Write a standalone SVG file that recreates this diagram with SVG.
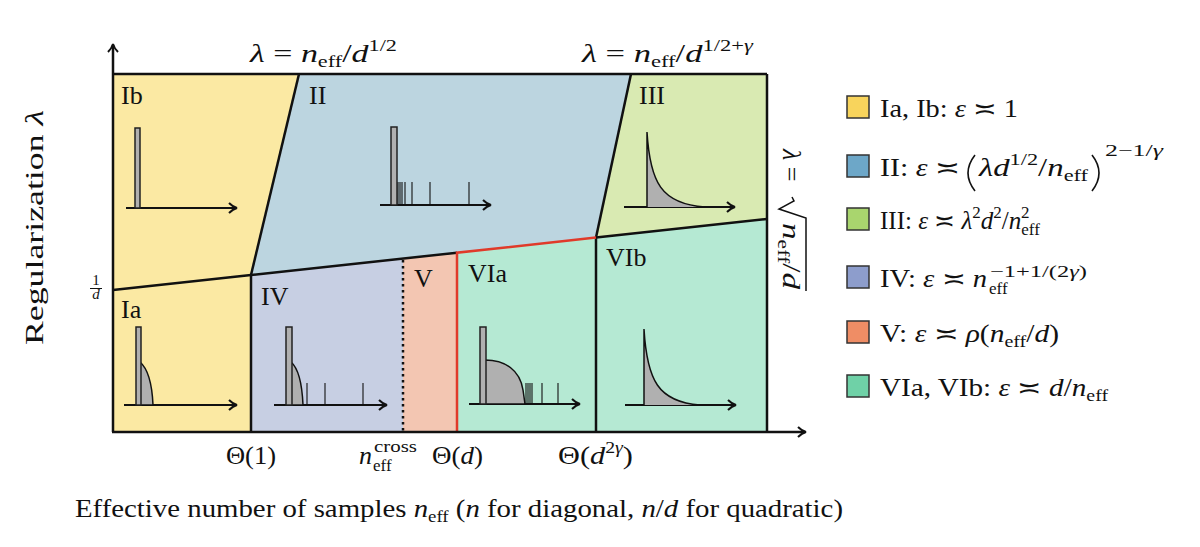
<svg xmlns="http://www.w3.org/2000/svg" width="1200" height="547" viewBox="0 0 1200 547">
<defs>
<style>
text{font-family:"Liberation Serif","DejaVu Serif",serif;fill:#111}
.lab{font-size:26px}
.m{font-size:26px}
.i{font-style:italic}
.s{font-size:17px}
.lg{font-size:25px}
.bd{stroke:#111;stroke-width:2.5;fill:none}
.ax{stroke:#111;stroke-width:2;fill:none}
.bar{fill:#b0b0b0;stroke:#222;stroke-width:1.5}
.sp{stroke:#111;stroke-width:1.1}
.hum{fill:#b0b0b0;stroke:#111;stroke-width:1.5}
.sq{stroke:#333;stroke-width:1.5}
.pr{fill:none;stroke:#111;stroke-width:1.6}
</style>
<marker id="ah" markerUnits="userSpaceOnUse" markerWidth="16" markerHeight="16" refX="9" refY="6" orient="auto">
<path d="M2,1 Q6,5 10,6 Q6,7 2,11" fill="none" stroke="#111" stroke-width="2"/>
</marker>
</defs>
<rect width="1200" height="547" fill="#fff"/>

<g id="region-Ib"><polygon points="113,74 299,74 251,275 113,290" fill="#fbe9a3"/><text class="lab" x="121" y="104">Ib</text></g>
<g id="region-Ia"><polygon points="113,290 251,275 251,432 113,432" fill="#fbe9a3"/><text class="lab" x="121" y="318">Ia</text></g>
<g id="region-II"><polygon points="299,74 631,74 596,237.6 251,275" fill="#bcd5e0"/><text class="lab" x="309" y="104">II</text></g>
<g id="region-III"><polygon points="631,74 767,74 767,219 596,237.6" fill="#d9eab2"/><text class="lab" x="639" y="104">III</text></g>
<g id="region-IV"><polygon points="251,275 403,258.5 403,432 251,432" fill="#c7cfe3"/><text class="lab" x="261" y="305">IV</text></g>
<g id="region-V"><polygon points="403,258.5 457,252.7 457,432 403,432" fill="#f3c6b2"/><text class="lab" x="414" y="287">V</text></g>
<g id="region-VIa"><polygon points="457,252.7 596,237.6 596,432 457,432" fill="#b5e9d3"/><text class="lab" x="468" y="282">VIa</text></g>
<g id="region-VIb"><polygon points="596,237.6 767,219 767,432 596,432" fill="#b5e9d3"/><text class="lab" x="606" y="266">VIb</text></g>

<g id="connectors">
<line class="bd" x1="113" y1="74" x2="767" y2="74"/>
<line class="bd" x1="767" y1="74" x2="767" y2="432"/>
<line class="bd" x1="299" y1="74" x2="251" y2="275"/>
<line class="bd" x1="631" y1="74" x2="596" y2="237.6"/>
<polyline class="bd" points="113,290 251,275 457,252.7"/>
<line class="bd" x1="596" y1="237.6" x2="767" y2="219"/>
<line class="bd" x1="251" y1="275" x2="251" y2="432"/>
<line class="bd" x1="596" y1="237.6" x2="596" y2="432"/>
<line x1="403" y1="260" x2="403" y2="432" stroke="#111" stroke-width="2.5" stroke-dasharray="2.5,3.5"/>
<polyline points="457,432 457,252.7 596,237.6" fill="none" stroke="#e03a2a" stroke-width="2.5"/>
<line class="bd" x1="113" y1="432" x2="113" y2="45" marker-end="url(#ah)"/>
<line class="bd" x1="112" y1="432" x2="805" y2="432" marker-end="url(#ah)"/>
</g>

<g id="inset-Ib">
<line class="ax" x1="126" y1="208" x2="236" y2="208" marker-end="url(#ah)"/>
<rect class="bar" x="135" y="128" width="5" height="80"/>
</g>
<g id="inset-II">
<line class="ax" x1="380" y1="205" x2="490" y2="205" marker-end="url(#ah)"/>
<g class="sp"><line x1="398" y1="182" x2="398" y2="205"/><line x1="400" y1="182" x2="400" y2="205"/><line x1="402" y1="182" x2="402" y2="205"/><line x1="405" y1="182" x2="405" y2="205"/><line x1="412" y1="182" x2="412" y2="205"/><line x1="430" y1="182" x2="430" y2="205"/><line x1="469" y1="182" x2="469" y2="205"/></g>
<rect class="bar" x="391" y="127" width="6" height="78"/>
</g>
<g id="inset-III">
<line class="ax" x1="624" y1="207" x2="734" y2="207" marker-end="url(#ah)"/>
<path d="M647,207 L647,132 C650,182 661,204 705,207 Z" fill="#b0b0b0"/>
<path d="M647,207 L647,132 C650,182 661,204 705,207" fill="none" stroke="#111" stroke-width="1.5"/>
</g>
<g id="inset-Ia">
<line class="ax" x1="124" y1="405" x2="236" y2="405" marker-end="url(#ah)"/>
<path class="hum" d="M140,405 L140,362 C147,368 152,382 153,405 Z"/>
<rect class="bar" x="136" y="327" width="5" height="78"/>
</g>
<g id="inset-IV">
<line class="ax" x1="274" y1="405" x2="386" y2="405" marker-end="url(#ah)"/>
<path class="hum" d="M291,405 L291,362 C298,368 302,382 303,405 Z"/>
<rect class="bar" x="286" y="327" width="6" height="78"/>
<g class="sp"><line x1="307" y1="383" x2="307" y2="405"/><line x1="325" y1="383" x2="325" y2="405"/><line x1="363" y1="383" x2="363" y2="405"/></g>
</g>
<g id="inset-VIa">
<line class="ax" x1="469" y1="404" x2="579" y2="404" marker-end="url(#ah)"/>
<path class="hum" d="M485,404 L485,360 C505,360 520,370 523,390 L525,404 Z"/>
<rect class="bar" x="480" y="327" width="6" height="77"/>
<g class="sp"><line x1="526" y1="383" x2="526" y2="404"/><line x1="528" y1="383" x2="528" y2="404"/><line x1="530" y1="383" x2="530" y2="404"/><line x1="532" y1="383" x2="532" y2="404"/><line x1="542" y1="383" x2="542" y2="404"/><line x1="558" y1="383" x2="558" y2="404"/></g>
</g>
<g id="inset-VIb">
<line class="ax" x1="625" y1="405" x2="735" y2="405" marker-end="url(#ah)"/>
<path d="M644,405 L644,329 C647,380 658,402 700,405 Z" fill="#b0b0b0"/>
<path d="M644,405 L644,329 C647,380 658,402 700,405" fill="none" stroke="#111" stroke-width="1.5"/>
</g>

<g id="top-labels">
<text class="m" x="250" y="62" textLength="147" lengthAdjust="spacingAndGlyphs"><tspan class="i">λ</tspan> = <tspan class="i">n</tspan><tspan class="s" dy="5">eff</tspan><tspan dy="-5">/</tspan><tspan class="i">d</tspan><tspan class="s" dy="-11">1/2</tspan></text>
<text class="m" x="582" y="62" textLength="171" lengthAdjust="spacingAndGlyphs"><tspan class="i">λ</tspan> = <tspan class="i">n</tspan><tspan class="s" dy="5">eff</tspan><tspan dy="-5">/</tspan><tspan class="i">d</tspan><tspan class="s" dy="-11">1/2+<tspan class="i">γ</tspan></tspan></text>
</g>

<g id="right-label" transform="translate(783,220) rotate(90)">
<text class="m" x="-71" y="0"><tspan class="i">λ</tspan> = </text>
<path d="M-23,-9 L-19,-11 L-11,4 L-2,-23 L71,-23" fill="none" stroke="#111" stroke-width="1.5"/>
<text class="m" x="3" y="0" textLength="66" lengthAdjust="spacingAndGlyphs"><tspan class="i">n</tspan><tspan class="s" dy="5">eff</tspan><tspan dy="-5">/</tspan><tspan class="i">d</tspan></text>
</g>

<g id="y-label">
<text class="m" transform="translate(43,345) rotate(-90)" textLength="235" lengthAdjust="spacingAndGlyphs">Regularization <tspan class="i">λ</tspan></text>
<text x="96" y="285" font-size="15" text-anchor="middle">1</text>
<line x1="90" y1="288.5" x2="102" y2="288.5" stroke="#111" stroke-width="1"/>
<text x="96" y="299" font-size="15" text-anchor="middle" class="i">d</text>
</g>

<g id="x-ticks">
<text class="m" x="226" y="464" textLength="50" lengthAdjust="spacingAndGlyphs">Θ(1)</text>
<text class="m" x="359" y="464"><tspan class="i">n</tspan></text>
<text class="s" x="373" y="471">eff</text>
<text class="s" x="374" y="452" textLength="43" lengthAdjust="spacingAndGlyphs">cross</text>
<text class="m" x="432" y="464" textLength="51" lengthAdjust="spacingAndGlyphs">Θ(<tspan class="i">d</tspan>)</text>
<text class="m" x="558" y="464" textLength="75" lengthAdjust="spacingAndGlyphs">Θ(<tspan class="i">d</tspan><tspan class="s" dy="-11">2<tspan class="i">γ</tspan></tspan><tspan dy="11">)</tspan></text>
</g>

<g id="x-label">
<text class="m" x="75" y="517" textLength="768" lengthAdjust="spacingAndGlyphs">Effective number of samples <tspan class="i">n</tspan><tspan class="s" dy="5">eff</tspan><tspan dy="-5"> (</tspan><tspan class="i">n</tspan> for diagonal, <tspan class="i">n</tspan>/<tspan class="i">d</tspan> for quadratic)</text>
</g>

<g id="legend">
<g id="legend-I"><rect class="sq" x="847" y="96" width="22" height="22" fill="#f8d45c"/><text class="lg" x="880" y="117" textLength="138" lengthAdjust="spacingAndGlyphs">Ia, Ib: <tspan class="i">ε</tspan> ≍ 1</text></g>
<g id="legend-II"><rect class="sq" x="847" y="155" width="22" height="22" fill="#6da7c8"/>
<text class="lg" x="880" y="176" textLength="80" lengthAdjust="spacingAndGlyphs">II: <tspan class="i">ε</tspan> ≍</text>
<path class="pr" d="M975,155 Q961,173 975,191"/>
<text class="lg" x="979" y="176" textLength="109" lengthAdjust="spacingAndGlyphs"><tspan class="i">λd</tspan><tspan class="s" dy="-11">1/2</tspan><tspan dy="11">/</tspan><tspan class="i">n</tspan><tspan class="s" dy="5">eff</tspan></text>
<path class="pr" d="M1092,155 Q1106,173 1092,191"/>
<text class="s" x="1105" y="156" textLength="58" lengthAdjust="spacingAndGlyphs">2−1/<tspan class="i">γ</tspan></text>
</g>
<g id="legend-III"><rect class="sq" x="847" y="208" width="22" height="22" fill="#a9d56e"/><text class="lg" x="880" y="229">III: <tspan class="i">ε</tspan> ≍ <tspan class="i">λ</tspan><tspan class="s" dy="-11">2</tspan><tspan class="i" dy="11">d</tspan><tspan class="s" dy="-11">2</tspan><tspan dy="11">/</tspan><tspan class="i">n</tspan><tspan class="s" dy="6">eff</tspan><tspan class="s" dx="-19" dy="-17">2</tspan></text></g>
<g id="legend-IV"><rect class="sq" x="847" y="266" width="22" height="22" fill="#8d9dcc"/>
<text class="lg" x="880" y="287" textLength="107" lengthAdjust="spacingAndGlyphs">IV: <tspan class="i">ε</tspan> ≍ <tspan class="i">n</tspan></text>
<text class="s" x="989" y="294">eff</text>
<text class="s" x="990" y="277" textLength="97" lengthAdjust="spacingAndGlyphs">−1+1/(2<tspan class="i">γ</tspan>)</text>
</g>
<g id="legend-V"><rect class="sq" x="847" y="321" width="22" height="22" fill="#ef8d65"/><text class="lg" x="880" y="342" textLength="179" lengthAdjust="spacingAndGlyphs">V: <tspan class="i">ε</tspan> ≍ <tspan class="i">ρ</tspan>(<tspan class="i">n</tspan><tspan class="s" dy="5">eff</tspan><tspan dy="-5">/</tspan><tspan class="i">d</tspan>)</text></g>
<g id="legend-VI"><rect class="sq" x="847" y="375" width="22" height="22" fill="#6fd1a7"/><text class="lg" x="880" y="396" textLength="228" lengthAdjust="spacingAndGlyphs">VIa, VIb: <tspan class="i">ε</tspan> ≍ <tspan class="i">d</tspan>/<tspan class="i">n</tspan><tspan class="s" dy="5">eff</tspan></text></g>
</g>
</svg>
